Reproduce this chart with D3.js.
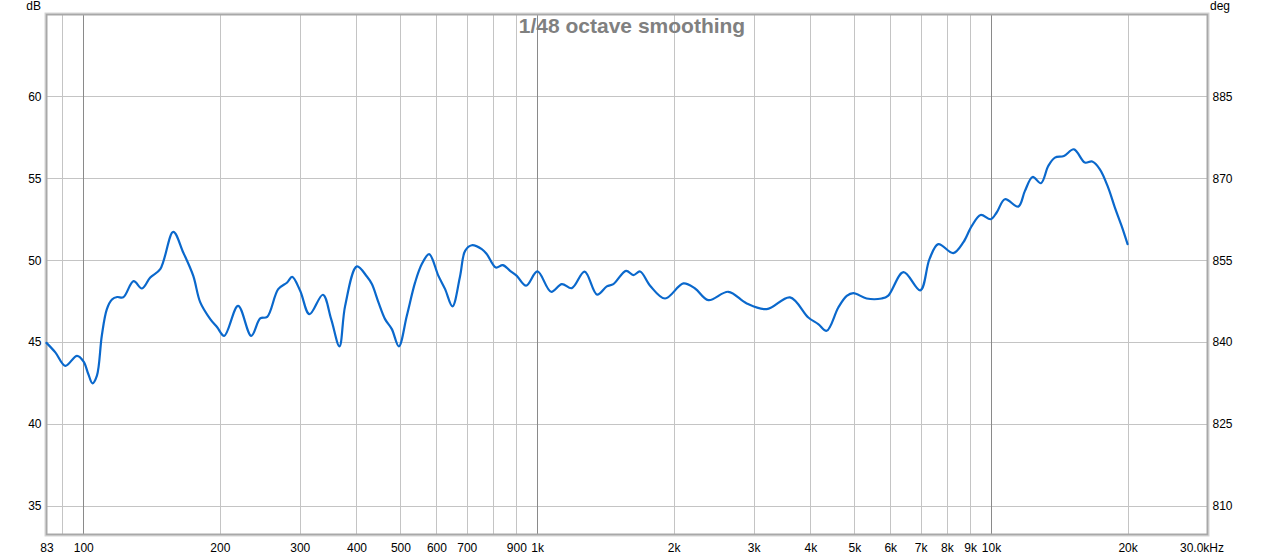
<!DOCTYPE html>
<html>
<head>
<meta charset="utf-8">
<script src="https://cdn.jsdelivr.net/npm/d3@7"></script>
<style>
  html, body { margin: 0; padding: 0; background: #fff; }
  svg { display: block; font-family: "Liberation Sans", Arial, sans-serif; }
  .tick text { font-size: 12px; fill: #000; }
</style>
</head>
<body>
<svg id="chart" width="1265" height="556"></svg>
<script>
// ---- Data ----
const freqHz = [83, 86.8, 91.3, 96.9, 100.2, 102.6, 104.8, 107.2, 109.9, 112.7, 115.7, 118.8, 122.5, 129.1, 134.7,
  140.5, 147.8, 157.9, 166.1, 174.7, 181.1, 190.5, 197.3, 204.5, 219.4, 234.5, 245.4, 254.3, 268.9, 281.4,
  288.6, 300.6, 315.1, 337.3, 351.8, 366.9, 377.6, 400.9, 421.7, 432.5, 447.2, 462.4, 478.6, 495.9, 516.4,
  538.6, 557.2, 578.2, 606.2, 627.1, 650.8, 676.7, 694.1, 718.1, 755.4, 774.8, 811.0, 840.3, 872.0, 902.2,
  945.8, 1001.5, 1073.6, 1133.6, 1192.6, 1272.4, 1355.7, 1424.1, 1472.6, 1570.5, 1630.0, 1686.4, 1774.2, 1913.9, 2100.5,
  2228.9, 2384.1, 2638.8, 2896.6, 3205.9, 3608, 3959, 4164, 4346, 4610, 4811, 4975, 5323, 5744, 5931,
  6416, 6988, 7320, 7654, 8261, 8689, 9074, 9490, 9985, 10293, 10736, 11485, 11882, 12355, 12887,
  13373, 13835, 14480, 15232, 16105, 16713, 17378, 18126, 18754, 19402, 20000];
const splDb = [44.95, 44.37, 43.55, 44.16, 43.8, 43.05, 42.48, 42.95, 45.4, 47.0, 47.6, 47.75, 47.73, 48.72, 48.27,
  48.94, 49.45, 51.73, 50.47, 49.05, 47.42, 46.4, 45.9, 45.38, 47.21, 45.38, 46.44, 46.54, 48.23, 48.64,
  48.98, 48.13, 46.7, 47.89, 46.4, 44.74, 47.21, 49.62, 49.0, 48.54, 47.42, 46.4, 45.79, 44.74, 46.61,
  48.64, 49.76, 50.37, 49.04, 48.23, 47.18, 49.04, 50.57, 50.91, 50.67, 50.37, 49.55, 49.7, 49.35, 49.04,
  48.44, 49.31, 48.07, 48.54, 48.29, 49.3, 47.9, 48.4, 48.54, 49.35, 49.09, 49.31, 48.44, 47.66, 48.58,
  48.27, 47.56, 48.07, 47.36, 47.01, 47.73, 46.5, 46.1, 45.69, 47.11, 47.82, 47.99, 47.66, 47.66, 47.82,
  49.27, 48.16, 50.06, 50.98, 50.43, 51.08, 52.09, 52.76, 52.5, 52.91, 53.72, 53.27, 54.23, 55.08, 54.7,
  55.75, 56.26, 56.36, 56.77, 55.96, 56.02, 55.55, 54.43, 53.21, 52.09, 50.98];

const xGridValues = [90, 100, 200, 300, 400, 500, 600, 700, 800, 900, 1000, 2000, 3000, 4000, 5000, 6000, 7000, 8000, 9000, 10000, 20000];
const xMajorValues = [100, 1000, 10000];
const xTickValues = [83, 100, 200, 300, 400, 500, 600, 700, 900, 1000, 2000, 3000, 4000, 5000, 6000, 7000, 8000, 9000, 10000, 20000, 30000];
const xTickLabels = ["83", "100", "200", "300", "400", "500", "600", "700", "900", "1k", "2k", "3k", "4k", "5k", "6k", "7k", "8k", "9k", "10k", "20k", "30.0kHz"];
const yTickValues = [35, 40, 45, 50, 55, 60];
const degTickValues = [810, 825, 840, 855, 870, 885];
const titleText = "1/48 octave smoothing";

// ---- Layout ----
const L = 46.5, R = 1207.5, T = 14.5, B = 534.5;
const svg = d3.select("#chart");

const x = d3.scaleLog().domain([83, 30000]).range([L, R]);
const y = d3.scaleLinear().domain([33.25, 65]).range([B, T]);
const yDeg = d3.scaleLinear().domain([33.25 * 3 + 705, 65 * 3 + 705]).range([B, T]);

// Gridlines
const grid = svg.append("g");
grid.selectAll("line.h").data(yTickValues).join("line")
  .attr("x1", L).attr("x2", R)
  .attr("y1", d => Math.round(y(d)) + 0.5).attr("y2", d => Math.round(y(d)) + 0.5)
  .attr("stroke", "#c4c4c4").attr("stroke-width", 1);
grid.selectAll("line.v").data(xGridValues).join("line")
  .attr("x1", d => Math.round(x(d)) + 0.5).attr("x2", d => Math.round(x(d)) + 0.5)
  .attr("y1", T).attr("y2", B)
  .attr("stroke", d => xMajorValues.includes(d) ? "#8a8a8a" : "#c4c4c4").attr("stroke-width", 1);

// Frame
svg.append("rect").attr("x", L - 1.5).attr("y", T - 1.5).attr("width", R - L + 3).attr("height", B - T + 3)
  .attr("fill", "none").attr("stroke", "#d6d6d6").attr("stroke-width", 1);
svg.append("rect").attr("x", L).attr("y", T).attr("width", R - L).attr("height", B - T)
  .attr("fill", "none").attr("stroke", "#a8a8a8").attr("stroke-width", 2);

// Title
svg.append("text").attr("x", 632).attr("y", 33).attr("text-anchor", "middle")
  .attr("font-size", "21px").attr("font-weight", "bold").attr("fill", "#808080")
  .text(titleText);

// Axes
const axL = svg.append("g").attr("transform", `translate(${L},0)`)
  .call(d3.axisLeft(y).tickValues(yTickValues).tickSize(0).tickPadding(5));
const axR = svg.append("g").attr("transform", `translate(${R},0)`)
  .call(d3.axisRight(yDeg).tickValues(degTickValues).tickSize(0).tickPadding(5));
const axB = svg.append("g").attr("transform", `translate(0,${B})`)
  .call(d3.axisBottom(x).tickValues(xTickValues).tickSize(0).tickPadding(9)
    .tickFormat((d, i) => xTickLabels[i]));
[axL, axR, axB].forEach(a => { a.select(".domain").remove(); a.selectAll(".tick text").attr("font-family", null).attr("font-size", null); });
axB.selectAll(".tick text").filter(d => d === 30000).attr("dx", -6);

svg.append("text").attr("x", 41).attr("y", 10).attr("text-anchor", "end")
  .attr("font-size", "12px").attr("fill", "#000").text("dB");
svg.append("text").attr("x", 1210).attr("y", 10)
  .attr("font-size", "12px").attr("fill", "#000").text("deg");

// Curve
const line = d3.line().x((d, i) => x(freqHz[i])).y(d => y(d)).curve(d3.curveCatmullRom.alpha(0.5));
svg.append("path").datum(splDb).attr("d", line)
  .attr("fill", "none").attr("stroke", "#0a68cc").attr("stroke-width", 2.2)
  .attr("stroke-linejoin", "round").attr("stroke-linecap", "round");
</script>
</body>
</html>
